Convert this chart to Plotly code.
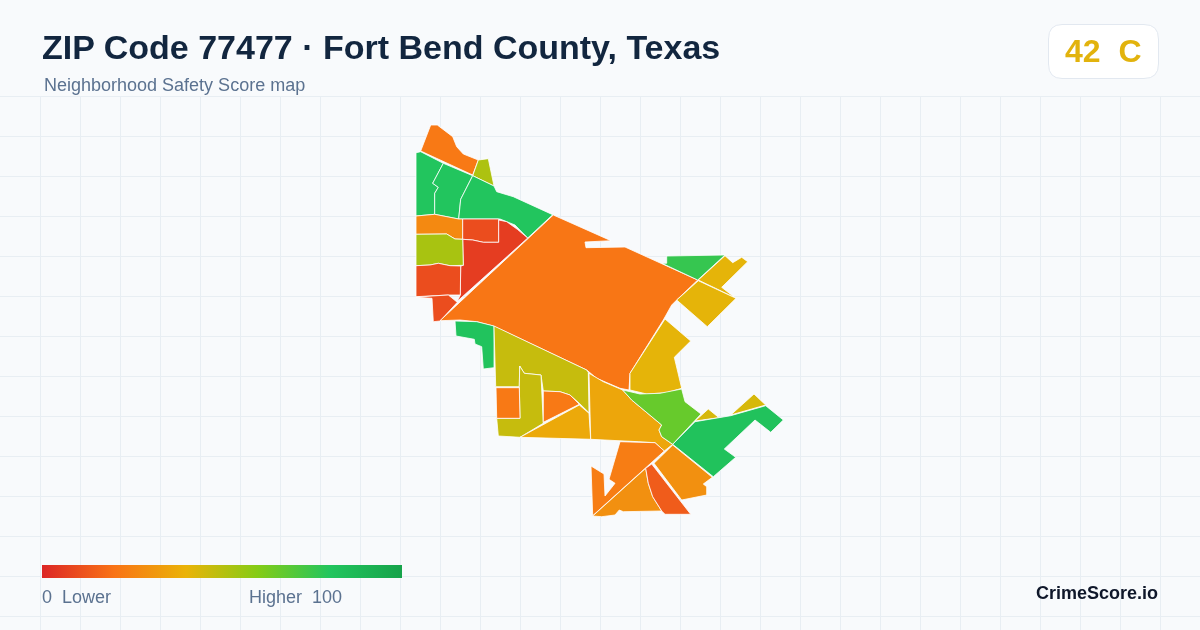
import plotly.graph_objects as go
from plotly.colors import sample_colorscale

# ---- data ----
color_stops = [[0.0, "#dc2626"], [0.2, "#f97316"], [0.4, "#eab308"],
               [0.6, "#84cc16"], [0.8, "#22c55e"], [1.0, "#16a34a"]]

region_scores = [22, 52, 80, 80, 80, 27, 10, 6, 53, 10, 10, 21, 81, 76, 41, 41, 41,
                 47, 47, 22, 22, 37, 36, 66, 44, 44, 82, 23, 29, 14, 29]

region_outlines = [
    [(420.7,151),(430.7,125),(437.3,125),(452.7,136.7),(456.7,146.7),(463.3,154),(478.3,160),(472.7,175)],
    [(478.3,160),(488.3,158.7),(494,186),(472.7,175.7)],
    [(416,152.7),(420.7,151.7),(443.3,163.3),(432.7,183.3),(438.3,187.3),(434.7,193.3),(434.7,214.3),(416,216)],
    [(443.3,163.3),(472.7,175.7),(460.7,199.3),(458.7,219),(446.7,216.7),(434.7,214.3),(434.7,193.3),(438.3,187.3),(432.7,183.3)],
    [(472.7,175.7),(494,186),(496.7,191.7),(513.3,196.7),(552.7,214.7),(527.7,238),(515,225),(500,219),(458.7,219),(460.7,199.3)],
    [(416,216),(434.7,214.3),(458.7,219),(462.7,219),(462.7,239.3),(455,239),(446.7,234),(430,234.3),(416,234.3)],
    [(462.7,219),(498.7,219),(498.7,242.3),(483.3,242.3),(472.7,240),(462.7,239.3)],
    [(498.7,220),(506.7,221.7),(517.3,229.3),(527.7,238),(457.3,301.3),(460.3,295),(460.7,266),(463.3,265.3),(462.7,239.3),(472.7,240),(483.3,242.3),(498.7,242.3)],
    [(416,234.3),(430,234.3),(446.7,234),(455,239),(462.7,239.3),(463.3,265.3),(450,265.7),(438.3,263.3),(430,265),(416,265.7)],
    [(416,265.7),(430,265),(438.3,263.3),(450,265.7),(460.7,266),(460.3,295),(448.3,295),(432,296),(416,296.7)],
    [(432,296),(448.3,295),(457.3,302.3),(440,321),(433.3,321.7),(432,298.3),(416,297.3)],
    [(553.3,215),(611,240.7),(585,242),(586,247.7),(625,247),(697.7,280),(676.7,300),(671.7,305),(663.3,320),(630,373.3),(629,390),(620,388.3),(596.7,378.3),(586.7,370),(493.3,326),(476.7,321.7),(460,320),(440,320.7)],
    [(455,321),(476.7,321.7),(494,326),(494,367.7),(483.3,369),(481.7,346.7),(475,344),(474.3,339.3),(456,336)],
    [(662,263.3),(666.7,263.3),(666.7,256),(725,255),(697.7,280)],
    [(725,255.7),(732.7,262.7),(741.7,257.3),(747.7,261.7),(721.7,287.3),(735,297.7),(698.3,280)],
    [(698.3,280.7),(736,298.3),(707.3,326.7),(676.7,300)],
    [(665,319),(690.7,341),(674.3,357.3),(681.7,388.3),(666.7,392.7),(646.7,394),(630,390),(630,373.3)],
    [(494,326),(586.7,370),(588.3,372.3),(589,412.7),(579.3,403.3),(570,395),(560,391.7),(543.3,391),(541,375),(524.3,373.3),(519.7,366),(519.3,386.7),(495.7,386.7)],
    [(519.7,366),(524.3,373.3),(541,375),(543.3,423.3),(520,437.3),(498.3,436),(496.7,418.3),(520,418.3),(519.3,386.7)],
    [(496,387.7),(519.3,387.7),(520,418.3),(496.7,418.3)],
    [(543.3,391),(560,391.7),(570,395),(579.3,404.3),(543.3,422.3)],
    [(579.3,405),(589,413.3),(590.7,439.3),(556.7,438.3),(520,437.3)],
    [(589,373.3),(603.3,381.7),(622.7,390),(631.7,400),(661.7,425),(659,430),(661.7,436.7),(672.7,444.3),(664.3,451),(655,442.7),(638.3,441.7),(590.7,439.3)],
    [(622.7,390),(640,394),(660,393.3),(681.7,389),(685,401.7),(701,414),(672.7,444.3),(661.7,436.7),(659,430),(661.7,425),(631.7,400)],
    [(695,421),(708.3,409),(719,417.7)],
    [(730.7,415),(754,394),(765.7,405)],
    [(695,421.7),(719,417.7),(730.7,415.7),(765.7,405.7),(783.3,420),(770.7,432.3),(755,420),(724.3,449),(735.7,457.3),(713.3,476.7),(672.7,444.3)],
    [(620,441.7),(655,442.7),(664.3,451),(592.7,515.7),(591,466),(604,474),(605,496),(615,483.3),(609,479.3)],
    [(645.7,468.3),(648.3,483.3),(652.7,496.7),(661.7,511),(623.3,511.7),(619.3,510),(615,515),(601.7,516.7),(592.7,516)],
    [(651.7,464),(690.7,514.3),(665,514.3),(661.7,511),(652.7,496.7),(648.3,483.3),(645.7,468.3)],
    [(672.7,445),(712.3,477.3),(703.3,484),(706.7,486.7),(706.7,495),(681.7,500),(654,463.3)],
]

title_text = "ZIP Code 77477 · Fort Bend County, Texas"
subtitle_text = "Neighborhood Safety Score map"
grade_text = "42  C"
legend_low = "0  Lower"
legend_high = "Higher  100"
brand_text = "CrimeScore.io"

FONT = "Liberation Sans, Arial, sans-serif"
BG = "#f8fafc"
MUTED = "#5b7290"
GRID = "#e8eef3"

fig = go.Figure()

fills = sample_colorscale(color_stops, [s / 100 for s in region_scores])
for outline, fill, score in zip(region_outlines, fills, region_scores):
    xs = [p[0] for p in outline] + [outline[0][0]]
    ys = [p[1] for p in outline] + [outline[0][1]]
    fig.add_trace(go.Scatter(x=xs, y=ys, mode="lines", fill="toself", fillcolor=fill,
                             line=dict(color="#ffffff", width=0.8), showlegend=False,
                             hoverinfo="text", text=f"Score {score}"))

# invisible markers that carry the colour scale legend
fig.add_trace(go.Scatter(
    x=[sum(p[0] for p in o) / len(o) for o in region_outlines],
    y=[sum(p[1] for p in o) / len(o) for o in region_outlines],
    mode="markers", showlegend=False, hoverinfo="skip", opacity=0,
    marker=dict(size=1, color=region_scores, colorscale=color_stops, cmin=0, cmax=100,
                showscale=True,
                colorbar=dict(orientation="h", lenmode="pixels", len=360, thickness=13,
                              thicknessmode="pixels", x=42 / 1200, xanchor="left",
                              y=1 - 565 / 630, yanchor="top", xpad=0, ypad=0,
                              outlinewidth=0, borderwidth=0, ticks="",
                              showticklabels=False))))

shapes = [
    dict(type="rect", layer="between", x0=-2, x1=1202, y0=-2, y1=96,
         fillcolor=BG, line=dict(width=0)),
    dict(type="path", layer="above",
         path="M 1062 24.5 L 1144 24.5 Q 1158.5 24.5 1158.5 39 L 1158.5 64 Q 1158.5 78.5 1144 78.5 "
              "L 1062 78.5 Q 1048.5 78.5 1048.5 64 L 1048.5 39 Q 1048.5 24.5 1062 24.5 Z",
         fillcolor="#ffffff", line=dict(color="#e2e8f0", width=1)),
]

def label(x, y, text, size, color, anchor="left", bold=False, shift=0):
    return dict(x=x, y=y, xref="x", yref="y", text=f"<b>{text}</b>" if bold else text,
                showarrow=False, xanchor=anchor, yanchor="middle", xshift=shift,
                font=dict(family=FONT, size=size, color=color))

annotations = [
    label(42, 46.5, title_text, 34, "#12263f", bold=True, shift=-2),
    label(44, 84.5, subtitle_text, 18, MUTED, shift=-2),
    label(1103, 51, grade_text, 32, "#e2b30d", anchor="center", bold=True),
    label(42, 596.5, legend_low, 18, MUTED, shift=-2),
    label(249, 596.5, legend_high, 18, MUTED, shift=-2),
    label(1158, 593, brand_text, 18, "#0f172a", anchor="right", bold=True, shift=2),
]

fig.update_layout(
    width=1200, height=630, margin=dict(l=0, r=0, t=0, b=0, autoexpand=False),
    paper_bgcolor=BG, plot_bgcolor=BG, font=dict(family=FONT),
    shapes=shapes, annotations=annotations, showlegend=False,
    xaxis=dict(range=[0, 1200], tick0=0, dtick=40, showgrid=True, gridcolor=GRID,
               gridwidth=1, zeroline=False, showticklabels=False, ticks="", fixedrange=True),
    yaxis=dict(range=[630, 0], tick0=96, dtick=40, showgrid=True, gridcolor=GRID,
               gridwidth=1, zeroline=False, showticklabels=False, ticks="", fixedrange=True),
)

fig.write_html("out.html", config=dict(displayModeBar=False),
               post_script="document.body.style.margin='0';document.body.style.overflow='hidden';")
